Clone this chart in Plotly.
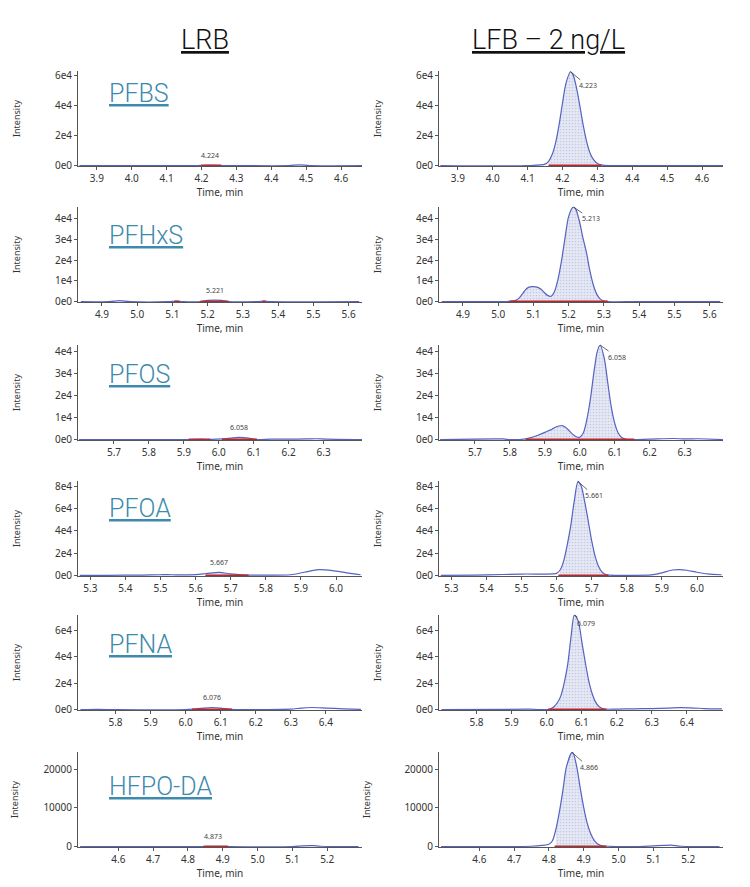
import plotly.graph_objects as go
from plotly.subplots import make_subplots

# compounds, one per row
compounds = ["PFBS", "PFHxS", "PFOS", "PFOA", "PFNA", "HFPO-DA"]

# x ranges (min) and y max (intensity) per row
x_ranges = [[3.846, 4.66], [4.832, 5.638], [5.597, 6.41], [5.265, 6.074], [5.693, 6.503], [4.484, 5.30]]
y_max = [63000, 45500, 43000, 84500, 71500, 24400]

# x tick labels per row
x_ticktext = [
    ["3.9", "4.0", "4.1", "4.2", "4.3", "4.4", "4.5", "4.6"],
    ["4.9", "5.0", "5.1", "5.2", "5.3", "5.4", "5.5", "5.6"],
    ["5.7", "5.8", "5.9", "6.0", "6.1", "6.2", "6.3"],
    ["5.3", "5.4", "5.5", "5.6", "5.7", "5.8", "5.9", "6.0"],
    ["5.8", "5.9", "6.0", "6.1", "6.2", "6.3", "6.4"],
    ["4.6", "4.7", "4.8", "4.9", "5.0", "5.1", "5.2"],
]

# y tick values / labels per row
y_tickvals = [
    [0, 20000, 40000, 60000],
    [0, 10000, 20000, 30000, 40000],
    [0, 10000, 20000, 30000, 40000],
    [0, 20000, 40000, 60000, 80000],
    [0, 20000, 40000, 60000],
    [0, 10000, 20000],
]
y_ticktext = [
    ["0e0", "2e4", "4e4", "6e4"],
    ["0e0", "1e4", "2e4", "3e4", "4e4"],
    ["0e0", "1e4", "2e4", "3e4", "4e4"],
    ["0e0", "2e4", "4e4", "6e4", "8e4"],
    ["0e0", "2e4", "4e4", "6e4"],
    ["0", "10000", "20000"],
]

# ---- LRB (blank) chromatograms ----
pfbs_lrb_t = [3.85, 4.15, 4.19, 4.20, 4.224, 4.25, 4.26, 4.30, 4.45, 4.48, 4.51, 4.66]
pfbs_lrb_i = [0, 0, 0, 200, 300, 200, 0, 0, 0, 500, 0, 0]
pfhxs_lrb_t = [4.84, 4.92, 4.95, 4.98, 5.09, 5.11, 5.13, 5.18, 5.20, 5.221, 5.24, 5.26, 5.34, 5.36, 5.38, 5.63]
pfhxs_lrb_i = [0, 0, 500, 0, 0, 300, 0, 0, 600, 700, 600, 0, 0, 200, 0, 0]
pfos_lrb_t = [5.60, 5.90, 5.92, 5.95, 5.98, 6.01, 6.04, 6.058, 6.08, 6.11, 6.15, 6.20, 6.25, 6.28, 6.31, 6.41]
pfos_lrb_i = [0, 0, 100, 200, 100, 300, 800, 1000, 800, 0, 200, 200, 300, 400, 200, 0]
pfoa_lrb_t = [5.27, 5.35, 5.45, 5.50, 5.52, 5.55, 5.60, 5.63, 5.667, 5.70, 5.75, 5.80, 5.87, 5.91, 5.95, 5.99, 6.03, 6.07]
pfoa_lrb_i = [300, 300, 500, 800, 900, 600, 900, 1800, 2900, 1500, 500, 500, 800, 3000, 5300, 4500, 2500, 800]
pfna_lrb_t = [5.70, 5.75, 5.80, 6.00, 6.02, 6.05, 6.076, 6.10, 6.13, 6.20, 6.30, 6.33, 6.36, 6.40, 6.45, 6.50]
pfna_lrb_i = [0, 200, 0, 0, 300, 1200, 1600, 1200, 200, 100, 300, 1200, 1600, 1200, 600, 200]
hfpo_lrb_t = [4.49, 4.84, 4.85, 4.873, 4.91, 4.92, 5.10, 5.13, 5.16, 5.18, 5.29]
hfpo_lrb_i = [0, 0, 50, 100, 50, 0, 0, 200, 250, 100, 0]

# ---- LFB (2 ng/L) chromatograms ----
pfbs_lfb_t = [3.85, 4.10, 4.15, 4.16, 4.17, 4.18, 4.19, 4.20, 4.21, 4.223, 4.23, 4.24, 4.25, 4.26,
              4.27, 4.28, 4.29, 4.30, 4.31, 4.32, 4.40, 4.66]
pfbs_lfb_i = [0, 0, 1000, 2900, 7200, 15000, 27000, 41700, 54900, 62500, 60600, 51900, 39400, 26100,
              15200, 7800, 3600, 1400, 500, 100, 0, 0]
pfhxs_lfb_t = [4.84, 5.00, 5.03, 5.05, 5.06, 5.07, 5.08, 5.09, 5.10, 5.11, 5.12, 5.13, 5.14, 5.15, 5.16,
               5.17, 5.18, 5.19, 5.20, 5.213, 5.22, 5.23, 5.24, 5.25, 5.26, 5.27, 5.28, 5.29, 5.30, 5.31,
               5.40, 5.63]
pfhxs_lfb_i = [0, 0, 100, 600, 1800, 4000, 6200, 7100, 7200, 7000, 6200, 4500, 3000, 2600, 5000,
               11000, 20000, 31000, 41000, 45500, 44500, 39000, 31000, 24000, 15000, 8000, 3500, 1200, 300, 0,
               0, 0]
pfos_lfb_t = [5.60, 5.78, 5.80, 5.84, 5.86, 5.88, 5.90, 5.91, 5.92, 5.93, 5.94, 5.95, 5.96, 5.97, 5.98,
              5.99, 6.00, 6.01, 6.02, 6.03, 6.04, 6.05, 6.058, 6.07, 6.08, 6.09, 6.10, 6.11, 6.12, 6.13,
              6.15, 6.20, 6.27, 6.30, 6.34, 6.41]
pfos_lfb_i = [0, 300, 0, 200, 900, 2000, 3300, 4000, 4700, 5600, 6200, 6400, 5500, 4000, 2400,
              1300, 1100, 3000, 9000, 18000, 30000, 40000, 43000, 37000, 26000, 15000, 7500, 3000, 1000, 300,
              0, 200, 500, 300, 400, 0]
pfoa_lfb_t = [5.27, 5.40, 5.50, 5.59, 5.60, 5.61, 5.62, 5.63, 5.64, 5.65, 5.661, 5.67, 5.68, 5.69, 5.70,
              5.71, 5.72, 5.73, 5.74, 5.75, 5.80, 5.87, 5.90, 5.93, 5.95, 5.97, 6.00, 6.03, 6.07]
pfoa_lfb_i = [300, 600, 1400, 1500, 2000, 5000, 13000, 27000, 44000, 66000, 84000, 80000, 66000, 49000, 31000,
              17000, 8000, 3000, 1000, 400, 300, 600, 2500, 5000, 5300, 4800, 3000, 1500, 800]
pfna_lfb_t = [5.70, 5.95, 6.00, 6.01, 6.02, 6.03, 6.04, 6.05, 6.06, 6.07, 6.079, 6.09, 6.10, 6.11, 6.12,
              6.13, 6.14, 6.15, 6.16, 6.17, 6.20, 6.25, 6.30, 6.35, 6.38, 6.42, 6.45, 6.50]
pfna_lfb_i = [0, 300, 0, 500, 2000, 5000, 10000, 20000, 34000, 56000, 71500, 67000, 52000, 36000, 22000,
              12000, 5500, 2200, 800, 300, 400, 600, 800, 1200, 1500, 1200, 800, 600]
hfpo_lfb_t = [4.49, 4.75, 4.78, 4.80, 4.81, 4.82, 4.83, 4.84, 4.85, 4.866, 4.87, 4.88, 4.89, 4.90, 4.91,
              4.92, 4.93, 4.94, 4.95, 4.97, 5.05, 5.10, 5.13, 5.15, 5.18, 5.29]
hfpo_lfb_i = [0, 100, 300, 600, 1500, 4500, 9000, 14500, 20500, 24300, 24000, 20500, 15000, 10000, 6000,
              3300, 1600, 700, 300, 100, 0, 200, 300, 400, 100, 0]

# integration windows (start, end) per row
lrb_windows = [
    [(4.199, 4.257)],
    [(5.105, 5.12), (5.179, 5.259), (5.355, 5.365)],
    [(5.913, 5.976), (6.009, 6.109)],
    [(5.628, 5.751)],
    [(6.018, 6.132)],
    [(4.844, 4.916)],
]
lfb_windows = [
    [(4.16, 4.312)],
    [(5.032, 5.311)],
    [(5.845, 6.156)],
    [(5.605, 5.748)],
    [(6.004, 6.170)],
    [(4.816, 4.965)],
]

# retention time labels
lrb_rt = [4.224, 5.221, 6.058, 5.667, 6.076, 4.873]
lrb_rt_i = [300, 700, 1000, 2900, 1600, 100]
lfb_rt = [4.223, 5.213, 6.058, 5.661, 6.079, 4.866]
lfb_rt_i = [62500, 45500, 43000, 84000, 71500, 24300]

lrb_data = [(pfbs_lrb_t, pfbs_lrb_i), (pfhxs_lrb_t, pfhxs_lrb_i), (pfos_lrb_t, pfos_lrb_i),
            (pfoa_lrb_t, pfoa_lrb_i), (pfna_lrb_t, pfna_lrb_i), (hfpo_lrb_t, hfpo_lrb_i)]
lfb_data = [(pfbs_lfb_t, pfbs_lfb_i), (pfhxs_lfb_t, pfhxs_lfb_i), (pfos_lfb_t, pfos_lfb_i),
            (pfoa_lfb_t, pfoa_lfb_i), (pfna_lfb_t, pfna_lfb_i), (hfpo_lfb_t, hfpo_lfb_i)]

# page has an 8px body margin, so the figure is a bit smaller than the window
OFF = 8
W, H = 750 - OFF, 887 - OFF
row_top = [71, 207, 345, 481, 615, 752]
panel_h = 95
col_x = [(78, 362), (439, 723)]


def fx(px):
    return (px - OFF) / W


def fy(py):
    return 1 - (py - OFF) / H


LINE = "#5563c0"
RED = "#b8282a"
TXT = "#333333"
FONT = "Noto Sans"

fig = make_subplots(rows=6, cols=2)


def add_panel(row, col, t, inten, windows):
    # filled integrated area
    for a, b in windows:
        ft = [x for x in t if a <= x <= b]
        fi = [inten[k] for k, x in enumerate(t) if a <= x <= b]
        fig.add_trace(go.Scatter(
            x=ft, y=fi, mode="lines", fill="tozeroy",
            line=dict(width=0, shape="spline", smoothing=0.8),
            fillcolor="#e2e4f2",
            fillpattern=dict(shape=".", fgcolor="#a3a9d6", bgcolor="#e6e8f4", size=3, solidity=0.25),
            hoverinfo="skip", showlegend=False), row=row, col=col)
    fig.add_trace(go.Scatter(
        x=t, y=inten, mode="lines",
        line=dict(color=LINE, width=1.2, shape="spline", smoothing=0.8),
        showlegend=False), row=row, col=col)
    rx, ry = [], []
    for a, b in windows:
        rx += [a, b, None]
        ry += [0, 0, None]
    fig.add_trace(go.Scatter(
        x=rx, y=ry, mode="lines", line=dict(color=RED, width=2),
        showlegend=False, hoverinfo="skip"), row=row, col=col)


for r in range(6):
    add_panel(r + 1, 1, lrb_data[r][0], lrb_data[r][1], lrb_windows[r])
    add_panel(r + 1, 2, lfb_data[r][0], lfb_data[r][1], lfb_windows[r])

# axis styling and placement
for r in range(6):
    for c in range(2):
        idx = r * 2 + c + 1
        xa = "xaxis" if idx == 1 else "xaxis%d" % idx
        ya = "yaxis" if idx == 1 else "yaxis%d" % idx
        fig.layout[xa].update(
            domain=[fx(col_x[c][0]), fx(col_x[c][1])],
            range=x_ranges[r], automargin=False,
            tickvals=[float(v) for v in x_ticktext[r]], ticktext=x_ticktext[r],
            showline=True, linecolor="#555", linewidth=1,
            ticks="outside", ticklen=3, tickcolor="#555",
            showgrid=False, zeroline=False,
            tickfont=dict(family=FONT, size=10, color=TXT),
            title=dict(text="Time, min", font=dict(family=FONT, size=10, color=TXT), standoff=3),
        )
        fig.layout[ya].update(
            domain=[fy(row_top[r] + panel_h), fy(row_top[r])], automargin=False,
            range=[-y_max[r] * 0.004, y_max[r]],
            tickvals=y_tickvals[r], ticktext=y_ticktext[r],
            showline=True, linecolor="#555", linewidth=1,
            ticks="outside", ticklen=3, tickcolor="#555",
            showgrid=False, zeroline=False,
            tickfont=dict(family=FONT, size=10, color=TXT),
            title=dict(text="Intensity", font=dict(family=FONT, size=9, color=TXT), standoff=32),
        )

annotations = []
# column headers
annotations.append(dict(text="<u>LRB</u>", x=fx(205), y=fy(40), xref="paper", yref="paper",
                        xanchor="center", yanchor="middle",
                        showarrow=False, font=dict(family="Roboto", size=27, color="#111", weight=300)))
annotations.append(dict(text="<u>LFB – 2 ng/L</u>", x=fx(548), y=fy(40), xref="paper", yref="paper",
                        xanchor="center", yanchor="middle",
                        showarrow=False, font=dict(family="Roboto", size=27, color="#111", weight=300)))

name_dy = [20, 26, 26, 24, 26, 31]
for r in range(6):
    annotations.append(dict(text="<u>%s</u>" % compounds[r], x=fx(107), y=fy(row_top[r] + name_dy[r] + 3),
                            xref="paper", yref="paper", xanchor="left", yanchor="middle",
                            showarrow=False, font=dict(family="Roboto", size=25, color="#3e8aae", weight=300)))

lfb_offsets = [(17, 14), (18, 12), (17, 12), (16, 14), (12, 8), (17, 15)]
for r in range(6):
    i1 = r * 2 + 1
    i2 = r * 2 + 2
    annotations.append(dict(text="%.3f" % lrb_rt[r], x=lrb_rt[r], y=lrb_rt_i[r],
                            xref="x%d" % i1 if i1 > 1 else "x", yref="y%d" % i1 if i1 > 1 else "y",
                            showarrow=False, yshift=10, font=dict(family=FONT, size=7, color="#444")))
    annotations.append(dict(text="%.3f" % lfb_rt[r], x=lfb_rt[r], y=lfb_rt_i[r],
                            xref="x%d" % i2, yref="y%d" % i2,
                            showarrow=True, arrowhead=0, arrowwidth=0.8, arrowcolor="#444",
                            ax=lfb_offsets[r][0], ay=lfb_offsets[r][1], standoff=0,
                            font=dict(family=FONT, size=7, color="#444")))

fig.update_layout(
    width=W, height=H,
    margin=dict(l=0, r=0, t=0, b=0),
    plot_bgcolor="white", paper_bgcolor="white",
    showlegend=False,
    annotations=annotations,
)

fig.write_html("out.html")
